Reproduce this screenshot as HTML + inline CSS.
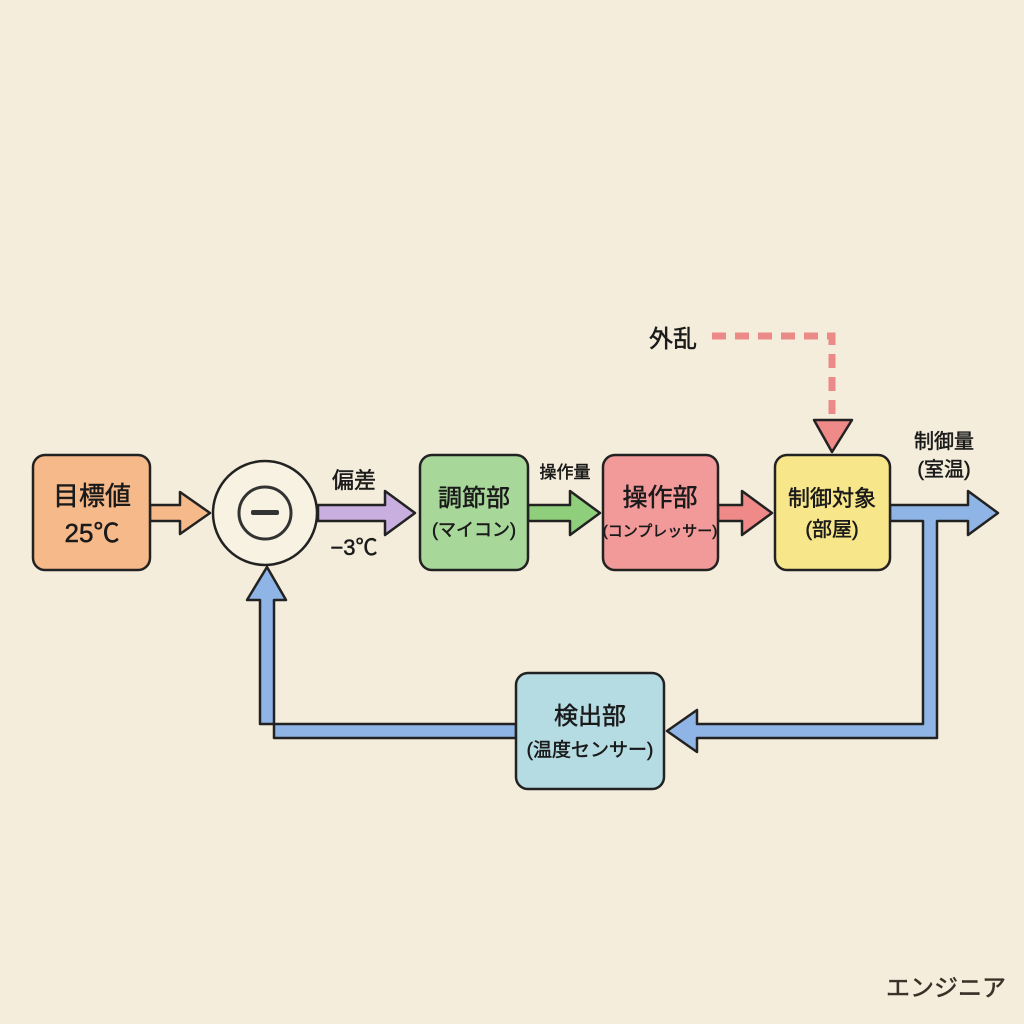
<!DOCTYPE html>
<html><head><meta charset="utf-8"><style>
html,body{margin:0;padding:0;background:#f5eddb;}
svg{display:block}
text{font-family:"Liberation Sans","Noto Sans CJK JP",sans-serif;fill:#1a1a1a;text-anchor:middle;stroke:#1a1a1a;stroke-width:0.5}
</style></head><body>
<svg width="1024" height="1024" viewBox="0 0 1024 1024" xmlns="http://www.w3.org/2000/svg">
<rect width="1024" height="1024" fill="#f5eddb"/>
<g stroke="#222" stroke-width="2.5" stroke-linejoin="round">
<polygon points="150,505 180,505 180,492 210,513 180,534 180,521 150,521" fill="#f6b98a"/>
<polygon points="318,505 385,505 385,491 415,513 385,535 385,521 318,521" fill="#c9aee0"/>
<polygon points="528,505 570,505 570,491 600,513 570,535 570,521 528,521" fill="#8fcf7c"/>
<polygon points="718,505 742,505 742,491 772,513 742,535 742,521 718,521" fill="#ef8a88"/>
<polygon points="890,505 968,505 968,491 998,513 968,535 968,521 937,521 937,738 697,738 697,752 667,731 697,710 697,724 923,724 923,521 890,521" fill="#8fb5e6"/>
<polygon points="516,724 260,724 260,600 247,600 267,567 286,600 274,600 274,738 516,738" fill="#8fb5e6"/>
<polygon points="814,420 852,420 832,452" fill="#ef8a88"/>
</g>
<path d="M712,336 H832 V415" fill="none" stroke="#ec8a88" stroke-width="7" stroke-dasharray="14,9"/>
<g stroke="#222" stroke-width="2.5">
<rect x="33" y="455" width="117" height="115" rx="12" fill="#f6b98a"/>
<rect x="420" y="455" width="108" height="115" rx="12" fill="#a8d79a"/>
<rect x="603" y="455" width="115" height="115" rx="12" fill="#f29a99"/>
<rect x="775" y="455" width="115" height="115" rx="12" fill="#f8e78a"/>
<rect x="516" y="673" width="148" height="116" rx="12" fill="#b5dbe3"/>
<circle cx="265" cy="513" r="52" fill="#f8f2e2"/>
<circle cx="265" cy="513" r="26" fill="none" stroke="#333" stroke-width="3"/>
</g>
<rect x="251" y="510" width="28" height="5" rx="2" fill="#333"/>
<text x="92" y="505" font-size="26">目標値</text>
<text x="92" y="542" font-size="26">25℃</text>
<text x="354" y="488" font-size="22">偏差</text>
<text x="354" y="555" font-size="22">−3℃</text>
<text x="474" y="506" font-size="24">調節部</text>
<text x="474" y="536" font-size="18">(マイコン)</text>
<text x="565" y="478" font-size="17">操作量</text>
<text x="660" y="506" font-size="25">操作部</text>
<text x="660" y="536" font-size="15">(コンプレッサー)</text>
<text x="832" y="506" font-size="22">制御対象</text>
<text x="832" y="536" font-size="20">(部屋)</text>
<text x="944" y="448" font-size="20">制御量</text>
<text x="944" y="476" font-size="20">(室温)</text>
<text x="673" y="347" font-size="24">外乱</text>
<text x="590" y="724" font-size="24">検出部</text>
<text x="590" y="756" font-size="19">(温度センサー)</text>
<text x="946" y="996" font-size="24" style="fill:#3a3028;stroke:#3a3028">エンジニア</text>
</svg>
</body></html>
